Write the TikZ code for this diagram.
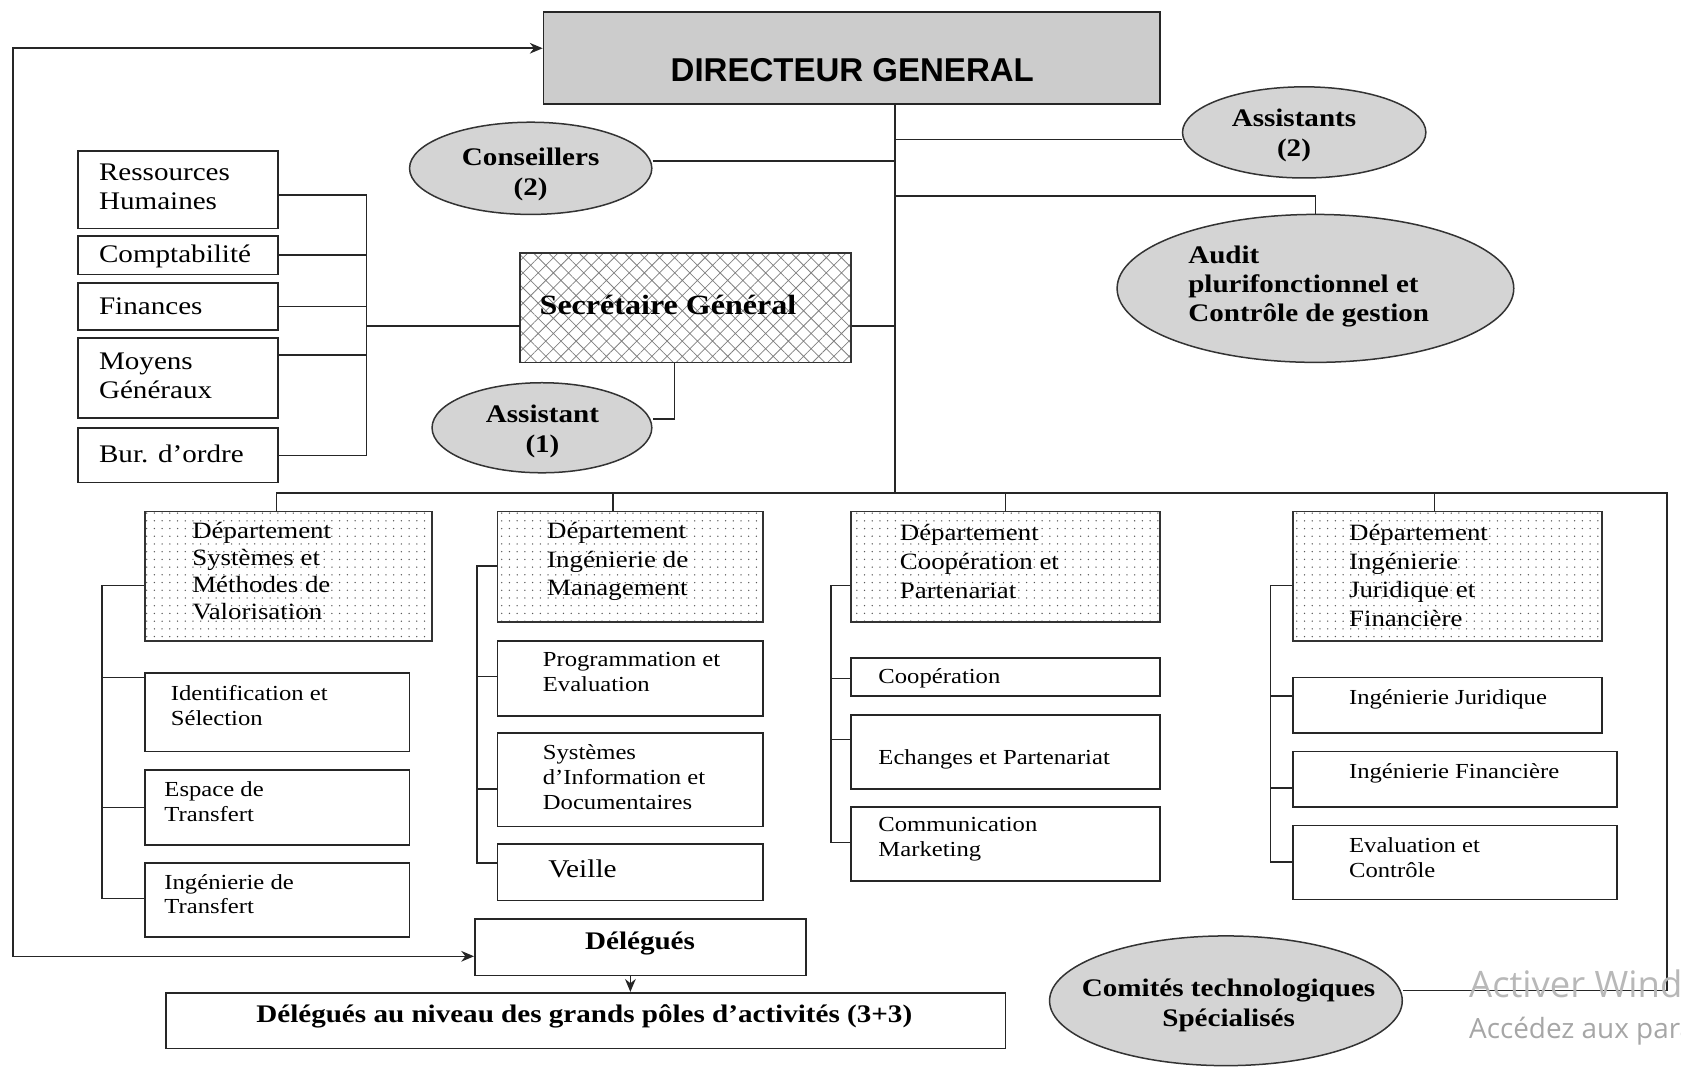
\documentclass[tikz,border=0pt]{standalone}
\usepackage{fontspec}
\setmainfont{Liberation Serif}[FakeStretch=1.15]
\newfontfamily\dgfont{Liberation Sans}
\newfontfamily\wmfont{Open Sans}
\usetikzlibrary{shapes.geometric,arrows.meta,patterns.meta}
\newcommand{\bxat}[6]{\node[#2, minimum width={(#5-#3)*0.5pt}, minimum height={(#6-#4)*0.5pt}] (#1) at ({(#3+#5)/2},{(#4+#6)/2}) {};}
\tikzset{
 ln/.style={draw=black!85, line width=0.7pt},
 bx/.style={draw=black!85, line width=0.8pt, rectangle, inner sep=0pt, fill=white},
 dgbox/.style={bx, fill=black!20},
 sgbox/.style={draw=black!80, line width=0.8pt, rectangle, inner sep=0pt, pattern={Hatch[angle=45,distance=5pt,line width=0.35pt]}, pattern color=black!50},
 depbox/.style={draw=black!80, line width=0.8pt, rectangle, inner sep=0pt, pattern={Dots[distance=3.6pt,radius=0.35pt]}, pattern color=black!65},
 ell/.style={ellipse, draw=black!80, line width=0.7pt, fill=black!17, inner sep=0pt},
 tl/.style={font=\fontsize{11.8}{13.5}\selectfont, align=left, inner sep=0pt, anchor=west},
 tdep/.style={font=\fontsize{10.9}{12.6}\selectfont, align=left, inner sep=0pt, anchor=west},
 tsub/.style={font=\fontsize{10}{11.5}\selectfont, align=left, inner sep=0pt, anchor=west},
 tb/.style={font=\bfseries\fontsize{11.8}{14}\selectfont, align=center, inner sep=0pt},
 arr/.style={-{Stealth[length=6pt,width=5pt]}},
 arrb/.style={{Stealth[length=6pt,width=5pt]}-{Stealth[length=6pt,width=5pt]}},
}
\begin{document}
\begin{tikzpicture}[x=0.5pt,y=-0.5pt]
\useasboundingbox (0,0) rectangle (1568,997);
% top level
\bxat{dg}{dgbox}{507}{11}{1082}{97}
\node[font=\dgfont\bfseries\fontsize{15.4}{18}\selectfont, inner sep=0pt] (dgt) at (795,65) {DIRECTEUR GENERAL};
\bxat{cons}{ell}{382}{114}{608}{200}
\node[tb] (const) at (495,163) {Conseillers\\(2)};
\bxat{asst}{ell}{1103}{81}{1330}{166}
\node[tb] (asstt) at (1207,126) {Assistants\\(2)};
\bxat{aud}{ell}{1042}{200}{1412}{338}
\node[tb, align=left, anchor=west, font=\bfseries\fontsize{11.8}{13.5}\selectfont] (audt) at (1108,267) {Audit\\plurifonctionnel et\\Contrôle de gestion};
\bxat{sg}{sgbox}{485}{236}{794}{338}
\node[tb, anchor=west, font=\bfseries\fontsize{13}{15}\selectfont] (sgt) at (503,284) {Secrétaire Général};
\bxat{as1}{ell}{403}{357}{608}{441}
\node[tb] (as1t) at (506,402) {Assistant\\(1)};
% left boxes
\bxat{rh}{bx}{73}{141}{259}{213}
\node[tl] (rht) at (92,174) {Ressources\\Humaines};
\bxat{cpt}{bx}{73}{220}{259}{256}
\node[tl] (cptt) at (92,239) {Comptabilité};
\bxat{fin}{bx}{73}{264}{259}{308}
\node[tl] (fint) at (92,286) {Finances};
\bxat{mg}{bx}{73}{315}{259}{390}
\node[tl] (mgt) at (92,351) {Moyens\\Généraux};
\bxat{bur}{bx}{73}{399}{259}{450}
\node[tl] (burt) at (92,423) {Bur. d’ordre};
% departments
\bxat{d1}{depbox}{135}{477}{403}{598}
\node[tdep] (d1t) at (179,533) {Département\\Systèmes et\\Méthodes de\\Valorisation};
\bxat{d2}{depbox}{464}{477}{712}{580}
\node[tdep, font=\fontsize{10.9}{13.3}\selectfont] (d2t) at (510,524) {Département\\Ingénierie de\\Management};
\bxat{d3}{depbox}{794}{477}{1082}{580}
\node[tdep, font=\fontsize{10.9}{13.5}\selectfont] (d3t) at (839,524) {Département\\Coopération et\\Partenariat};
\bxat{d4}{depbox}{1206}{477}{1494}{598}
\node[tdep, font=\fontsize{10.9}{13.3}\selectfont] (d4t) at (1258,537) {Département\\Ingénierie\\Juridique et\\Financière};
% column 1
\bxat{ids}{bx}{135}{628}{382}{701}
\node[tsub] (idst) at (159,658) {Identification et\\Sélection};
\bxat{esp}{bx}{135}{718}{382}{788}
\node[tsub] (espt) at (153,748) {Espace de\\Transfert};
\bxat{ingt}{bx}{135}{805}{382}{874}
\node[tsub] (ingtt) at (153,834) {Ingénierie de\\Transfert};
% column 2
\bxat{prg}{bx}{464}{598}{712}{668}
\node[tsub] (prgt) at (506,627) {Programmation et\\Evaluation};
\bxat{sid}{bx}{464}{684}{712}{771}
\node[tsub] (sidt) at (506,725) {Systèmes\\d’Information et\\Documentaires};
\bxat{vei}{bx}{464}{787}{712}{840}
\node[tsub, font=\fontsize{11.9}{13}\selectfont] (veit) at (511,810) {Veille};
% column 3
\bxat{coo}{bx}{794}{614}{1082}{649}
\node[tsub] (coot) at (819,633) {Coopération};
\bxat{ech}{bx}{794}{667}{1082}{736}
\node[tsub] (echt) at (819,708) {Echanges et Partenariat};
\bxat{cmk}{bx}{794}{753}{1082}{822}
\node[tsub] (cmkt) at (819,783) {Communication\\Marketing};
% column 4
\bxat{ij}{bx}{1206}{632}{1494}{684}
\node[tsub] (ijt) at (1258,652) {Ingénierie Juridique};
\bxat{ifi}{bx}{1206}{701}{1508}{753}
\node[tsub] (ifit) at (1258,721) {Ingénierie Financière};
\bxat{evc}{bx}{1206}{770}{1508}{839}
\node[tsub] (evct) at (1258,800) {Evaluation et\\Contrôle};
% bottom
\bxat{del}{bx}{443}{857}{752}{910}
\node[tb] (delt) at (597,880) {Délégués};
\bxat{bot}{bx}{155}{926}{938}{978}
\node[tb] (bott) at (545,948) {Délégués au niveau des grands pôles d’activités (3+3)};
\bxat{com}{ell}{979}{873}{1308}{994}
\node[tb] (comt) at (1146,938) {Comités technologiques\\Spécialisés};
% connectors
\coordinate (sp) at (835,97);
\coordinate (jb) at (835,460);
\draw[ln] (sp) -- (jb);
\draw[ln] (cons.east |- 0,150) -- (sp |- 0,150);
\draw[ln] (asst.west |- 0,130) -- (sp |- 0,130);
\draw[ln] (sp |- 0,183) -| (aud.north);
\draw[ln] (sg.east |- 0,304) -- (sp |- 0,304);
\draw[ln] (sg.south -| 629,0) |- (as1.east |- 0,391);
\draw[ln] (rh.east |- 0,182) -- (342,182) -- (342,425) -- (bur.east |- 0,425);
\draw[ln] (cpt.east |- 0,238) -- (342,238);
\draw[ln] (fin.east |- 0,286) -- (342,286);
\draw[ln] (mg.east |- 0,331) -- (342,331);
\draw[ln] (342,304) -- (sg.west |- 0,304);
% bus
\draw[ln] (d1.north -| 258,0) |- (1555,460) |- (com.east |- 0,924);
\draw[ln] (d2.north -| 572,0) -- (572,460);
\draw[ln] (d3.north -| 938,0) -- (938,460);
\draw[ln] (d4.north -| 1338,0) -- (1338,460);
% column spines
\draw[ln] (d1.west |- 0,546) -| (95,838) -- (ingt.west |- 0,838);
\draw[ln] (95,632) -- (ids.west |- 0,632);
\draw[ln] (95,753) -- (esp.west |- 0,753);
\draw[ln] (d2.west |- 0,528) -| (445,805) -- (vei.west |- 0,805);
\draw[ln] (445,631) -- (prg.west |- 0,631);
\draw[ln] (445,736) -- (sid.west |- 0,736);
\draw[ln] (d3.west |- 0,546) -| (775,786) -- (cmk.west |- 0,786);
\draw[ln] (775,633) -- (coo.west |- 0,633);
\draw[ln] (775,690) -- (ech.west |- 0,690);
\draw[ln] (d4.west |- 0,546) -| (1185,804) -- (evc.west |- 0,804);
\draw[ln] (1185,649) -- (ij.west |- 0,649);
\draw[ln] (1185,735) -- (ifi.west |- 0,735);
% arrows
\draw[ln, arrb] (dg.west |- 0,45) -| (12,892) -- (del.west |- 0,892);
\draw[ln, arr] (del.south -| 588,0) -- (bot.north -| 588,0);
% watermark
\begin{scope}
\clip (0,0) rectangle (1568,997);
\node[font=\wmfont\fontsize{17}{20}\selectfont, text=black!28, anchor=west, inner sep=0pt] (wm1) at (1370,918) {Activer Windows};
\node[font=\wmfont\fontsize{13}{16}\selectfont, text=black!35, anchor=west, inner sep=0pt] (wm2) at (1370,962) {Accédez aux paramètres pour activer Windows.};
\end{scope}
\end{tikzpicture}
\end{document}
